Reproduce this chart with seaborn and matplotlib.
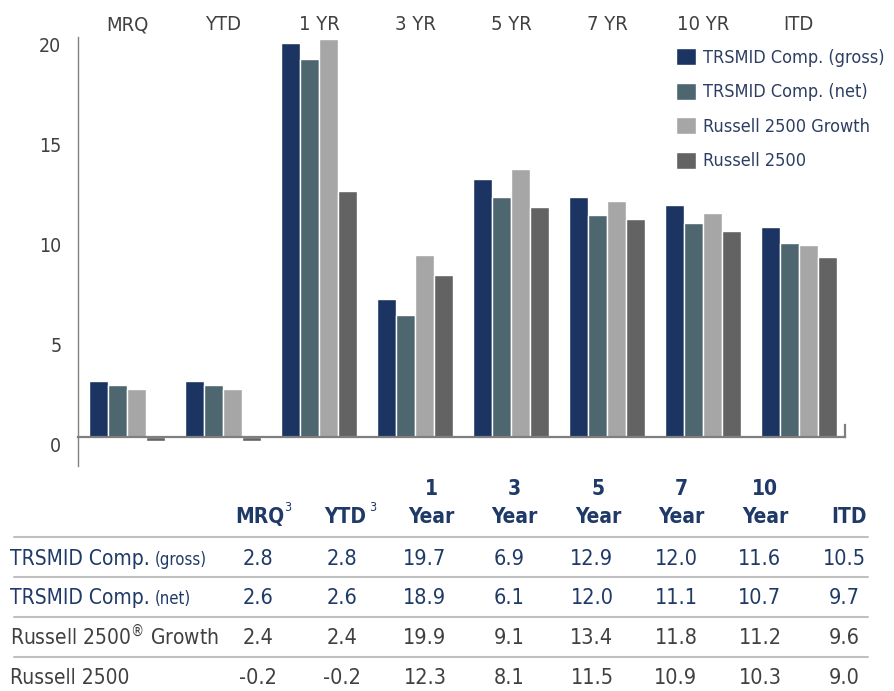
import matplotlib
matplotlib.use("Agg")
import matplotlib.pyplot as plt
import seaborn as sns
import pandas as pd
from matplotlib.lines import Line2D
import matplotlib.transforms as mtransforms

# ---------------- data ----------------
periods = ["MRQ", "YTD", "1 YR", "3 YR", "5 YR", "7 YR", "10 YR", "ITD"]
series = ["TRSMID Comp. (gross)", "TRSMID Comp. (net)", "Russell 2500 Growth", "Russell 2500"]
gross = [2.8, 2.8, 19.7, 6.9, 12.9, 12.0, 11.6, 10.5]
net = [2.6, 2.6, 18.9, 6.1, 12.0, 11.1, 10.7, 9.7]
growth = [2.4, 2.4, 19.9, 9.1, 13.4, 11.8, 11.2, 9.6]
r2500 = [-0.2, -0.2, 12.3, 8.1, 11.5, 10.9, 10.3, 9.0]
yticks = [0, 5, 10, 15, 20]

table_top = ["", "", "1", "3", "5", "7", "10", ""]
table_bottom = ["MRQ", "YTD", "Year", "Year", "Year", "Year", "Year", "ITD"]
table_sup = ["3", "3", "", "", "", "", "", ""]
row_main = ["TRSMID Comp.", "TRSMID Comp.", "Russell 2500$^{\\circledR}$ Growth", "Russell 2500"]
row_small = ["(gross)", "(net)", "", ""]
table_values = [gross, net, growth, r2500]

# ---------------- style ----------------
bar_colors = ["#1B3461", "#4D6670", "#A6A6A6", "#636363"]
navy_text = "#1F3A68"
grey_text = "#404040"
row_colors = [navy_text, navy_text, grey_text, grey_text]

sns.set_style("white")
FAM = ["DejaVu Sans"]
STRETCH = "condensed"
plt.rcParams["font.family"] = FAM
plt.rcParams["font.stretch"] = STRETCH

W, H = 895, 691
fig = plt.figure(figsize=(W / 100, H / 100), dpi=100)


def fx(x):
    return x / W


def fy(y):
    return 1 - y / H


ax = fig.add_axes([fx(78), fy(466), (845 - 78) / W, (466 - 37) / H])

df = pd.DataFrame({
    "period": periods * 4,
    "series": [s for s in series for _ in periods],
    "value": gross + net + growth + r2500,
})

sns.barplot(data=df, x="period", y="value", hue="series", order=periods,
            hue_order=series, palette=bar_colors, saturation=1, width=0.8,
            edgecolor="white", linewidth=1.0, errorbar=None, ax=ax)

ax.set_xlim(-0.51, 7.48)
ax.set_ylim(-1.45, 19.95)
ax.set_xlabel("")
ax.set_ylabel("")

# top category labels
ax.xaxis.set_ticks_position("top")
ax.xaxis.set_label_position("top")
ax.tick_params(axis="x", length=0, pad=2, labelsize=14.5, labelcolor=grey_text)

ax.set_yticks(yticks)
ax.set_yticklabels([str(v) for v in yticks])
ax.tick_params(axis="y", length=0, pad=12, labelsize=14, labelcolor=grey_text)
off = mtransforms.ScaledTranslation(0, -7 / 100, fig.dpi_scale_trans)
for lab in ax.get_yticklabels():
    lab.set_transform(lab.get_transform() + off)

ax.spines["top"].set_visible(False)
ax.spines["bottom"].set_position(("data", 0))
ax.spines["bottom"].set_color("#7F7F7F")
ax.spines["bottom"].set_linewidth(1.6)
ax.spines["left"].set_color("#808080")
ax.spines["left"].set_linewidth(1.0)
ax.spines["right"].set_bounds(0, 0.6)
ax.spines["right"].set_color("#7F7F7F")
ax.spines["right"].set_linewidth(1.6)

handles, labels = ax.get_legend_handles_labels()
ax.legend(handles, labels, loc="upper left",
          bbox_to_anchor=(fx(676), fy(48)), bbox_transform=fig.transFigure,
          frameon=False, prop={"family": FAM, "size": 13, "stretch": STRETCH},
          handlelength=1.1, handleheight=1.1, handletextpad=0.39,
          labelspacing=0.87, borderpad=0, borderaxespad=0, labelcolor="#2D3E63")

# ---------------- table ----------------
col_x = [258, 342, 425, 509, 592, 676, 760, 844]
head_x = [260, 345, 431, 514, 598, 681, 765, 849]
row_base = [565, 604, 644, 684]
sep_y = [537, 577, 617, 657]

hfont = dict(family=FAM, stretch=STRETCH, size=15, weight="bold", color=navy_text)
for i in range(len(periods)):
    fig.text(fx(head_x[i]), fy(523), table_bottom[i], ha="center", va="baseline", **hfont)
    if table_top[i]:
        fig.text(fx(head_x[i]), fy(495), table_top[i], ha="center", va="baseline", **hfont)
    if table_sup[i]:
        fig.text(fx(head_x[i] + 24), fy(511), table_sup[i], ha="left", va="baseline",
                 family=FAM, stretch=STRETCH, size=9, color=navy_text)

for y in sep_y:
    fig.add_artist(Line2D([fx(14), fx(868)], [fy(y), fy(y)], color="#C0C0C0", lw=1.5,
                          transform=fig.transFigure))

main_texts = []
for r in range(4):
    t = fig.text(fx(10), fy(row_base[r]), row_main[r], ha="left", va="baseline",
                 family=FAM, stretch=STRETCH, size=15, color=row_colors[r])
    main_texts.append(t)
    for i, v in enumerate(table_values[r]):
        fig.text(fx(col_x[i]), fy(row_base[r]), f"{v:.1f}", ha="center", va="baseline",
                 family=FAM, stretch=STRETCH, size=15.5, color=row_colors[r])

fig.canvas.draw()
renderer = fig.canvas.get_renderer()
for r in range(4):
    if row_small[r]:
        bb = main_texts[r].get_window_extent(renderer)
        fig.text((bb.x1 + 5) / W, fy(row_base[r]), row_small[r], ha="left", va="baseline",
                 family=FAM, stretch=STRETCH, size=12, color=row_colors[r])

fig.savefig("out.png", dpi=100)
